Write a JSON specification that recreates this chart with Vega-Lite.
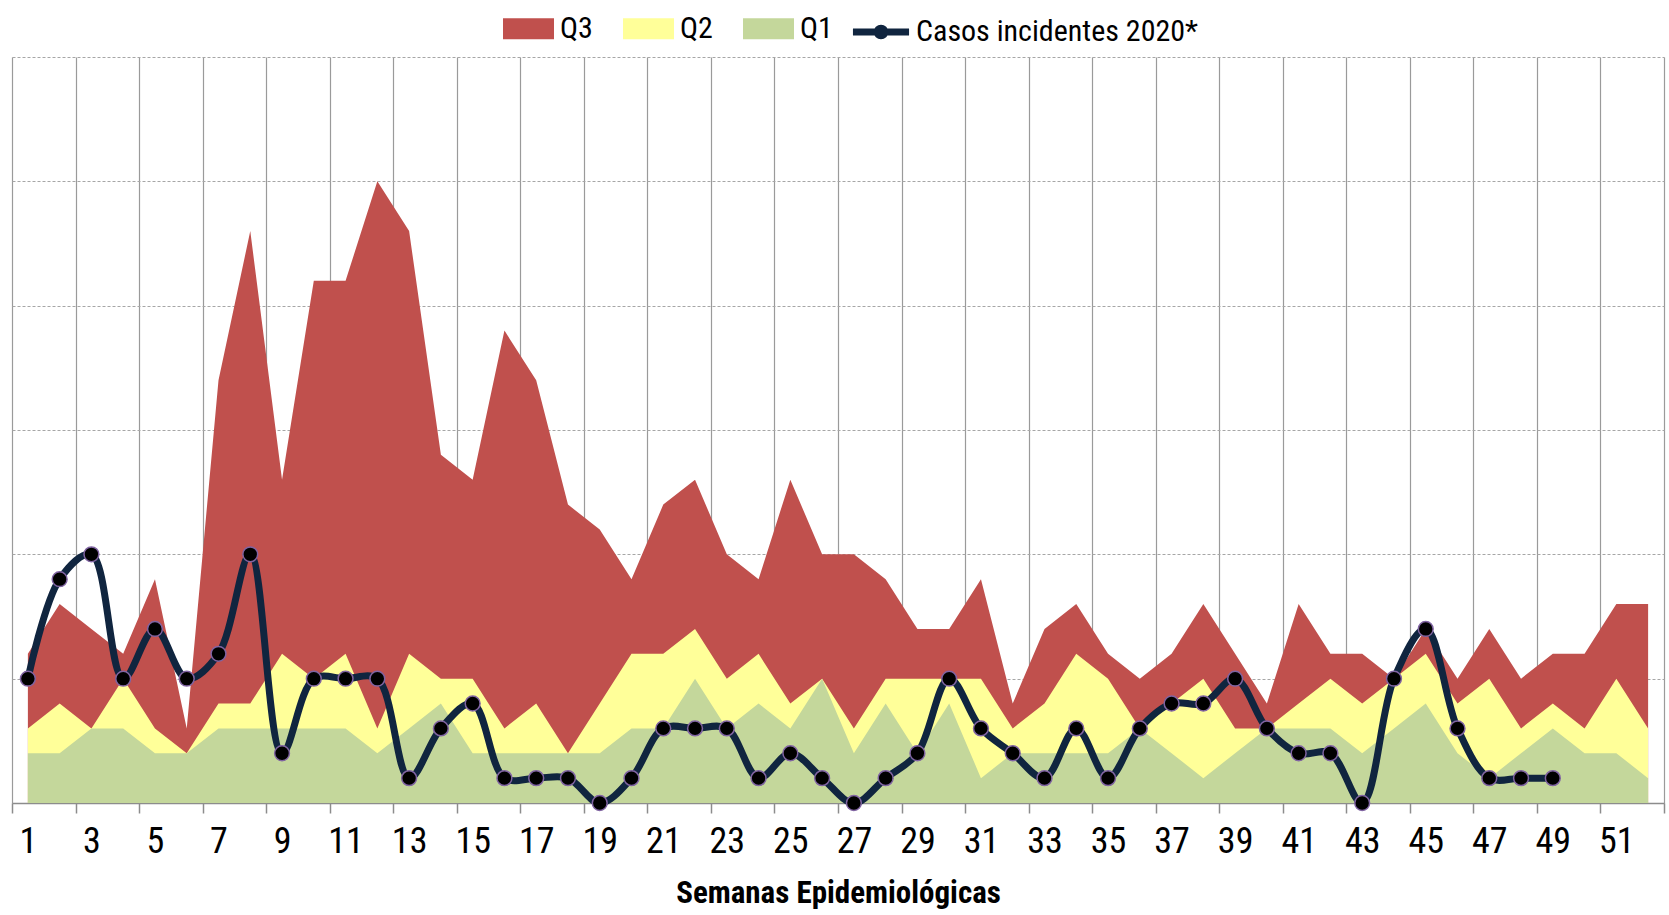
{
  "$schema": "https://vega.github.io/schema/vega-lite/v6.json",
  "width": 1652,
  "height": 746,
  "autosize": {"type": "none"},
  "padding": {"left": 12, "top": 57, "right": 5, "bottom": 112},
  "background": "white",
  "config": {
    "view": {"stroke": null},
    "font": "Roboto Condensed, Liberation Sans Narrow, Roboto, sans-serif",
    "axisY": {"labels": false, "ticks": false, "domain": false, "title": null, "grid": true, "gridDash": [3, 2], "gridColor": "#A6A6A6", "gridWidth": 1, "tickCount": 6}
  },
  "data": {
    "values": [
      {"week": 1, "q1": 2, "q2": 3, "q3": 6, "casos": 5},
      {"week": 2, "q1": 2, "q2": 4, "q3": 8, "casos": 9},
      {"week": 3, "q1": 3, "q2": 3, "q3": 7, "casos": 10},
      {"week": 4, "q1": 3, "q2": 5, "q3": 6, "casos": 5},
      {"week": 5, "q1": 2, "q2": 3, "q3": 9, "casos": 7},
      {"week": 6, "q1": 2, "q2": 2, "q3": 3, "casos": 5},
      {"week": 7, "q1": 3, "q2": 4, "q3": 17, "casos": 6},
      {"week": 8, "q1": 3, "q2": 4, "q3": 23, "casos": 10},
      {"week": 9, "q1": 3, "q2": 6, "q3": 13, "casos": 2},
      {"week": 10, "q1": 3, "q2": 5, "q3": 21, "casos": 5},
      {"week": 11, "q1": 3, "q2": 6, "q3": 21, "casos": 5},
      {"week": 12, "q1": 2, "q2": 3, "q3": 25, "casos": 5},
      {"week": 13, "q1": 3, "q2": 6, "q3": 23, "casos": 1},
      {"week": 14, "q1": 4, "q2": 5, "q3": 14, "casos": 3},
      {"week": 15, "q1": 2, "q2": 5, "q3": 13, "casos": 4},
      {"week": 16, "q1": 2, "q2": 3, "q3": 19, "casos": 1},
      {"week": 17, "q1": 2, "q2": 4, "q3": 17, "casos": 1},
      {"week": 18, "q1": 2, "q2": 2, "q3": 12, "casos": 1},
      {"week": 19, "q1": 2, "q2": 4, "q3": 11, "casos": 0},
      {"week": 20, "q1": 3, "q2": 6, "q3": 9, "casos": 1},
      {"week": 21, "q1": 3, "q2": 6, "q3": 12, "casos": 3},
      {"week": 22, "q1": 5, "q2": 7, "q3": 13, "casos": 3},
      {"week": 23, "q1": 3, "q2": 5, "q3": 10, "casos": 3},
      {"week": 24, "q1": 4, "q2": 6, "q3": 9, "casos": 1},
      {"week": 25, "q1": 3, "q2": 4, "q3": 13, "casos": 2},
      {"week": 26, "q1": 5, "q2": 5, "q3": 10, "casos": 1},
      {"week": 27, "q1": 2, "q2": 3, "q3": 10, "casos": 0},
      {"week": 28, "q1": 4, "q2": 5, "q3": 9, "casos": 1},
      {"week": 29, "q1": 2, "q2": 5, "q3": 7, "casos": 2},
      {"week": 30, "q1": 4, "q2": 5, "q3": 7, "casos": 5},
      {"week": 31, "q1": 1, "q2": 5, "q3": 9, "casos": 3},
      {"week": 32, "q1": 2, "q2": 3, "q3": 4, "casos": 2},
      {"week": 33, "q1": 2, "q2": 4, "q3": 7, "casos": 1},
      {"week": 34, "q1": 2, "q2": 6, "q3": 8, "casos": 3},
      {"week": 35, "q1": 2, "q2": 5, "q3": 6, "casos": 1},
      {"week": 36, "q1": 3, "q2": 3, "q3": 5, "casos": 3},
      {"week": 37, "q1": 2, "q2": 4, "q3": 6, "casos": 4},
      {"week": 38, "q1": 1, "q2": 5, "q3": 8, "casos": 4},
      {"week": 39, "q1": 2, "q2": 3, "q3": 6, "casos": 5},
      {"week": 40, "q1": 3, "q2": 3, "q3": 4, "casos": 3},
      {"week": 41, "q1": 3, "q2": 4, "q3": 8, "casos": 2},
      {"week": 42, "q1": 3, "q2": 5, "q3": 6, "casos": 2},
      {"week": 43, "q1": 2, "q2": 4, "q3": 6, "casos": 0},
      {"week": 44, "q1": 3, "q2": 5, "q3": 5, "casos": 5},
      {"week": 45, "q1": 4, "q2": 6, "q3": 7, "casos": 7},
      {"week": 46, "q1": 2, "q2": 4, "q3": 5, "casos": 3},
      {"week": 47, "q1": 1, "q2": 5, "q3": 7, "casos": 1},
      {"week": 48, "q1": 2, "q2": 3, "q3": 5, "casos": 1},
      {"week": 49, "q1": 3, "q2": 4, "q3": 6, "casos": 1},
      {"week": 50, "q1": 2, "q2": 3, "q3": 6, "casos": null},
      {"week": 51, "q1": 2, "q2": 5, "q3": 8, "casos": null},
      {"week": 52, "q1": 1, "q2": 3, "q3": 8, "casos": null}
    ]
  },
  "encoding": {
    "x": {
      "field": "week",
      "type": "quantitative",
      "scale": {"domain": [0.5, 52.5], "nice": false, "zero": false},
      "axis": {
        "title": "Semanas Epidemiológicas",
        "titleFontSize": 31,
        "titleFontWeight": "bold",
        "titleColor": "#000000",
        "titlePadding": 19,
        "values": [0.5, 2.5, 4.5, 6.5, 8.5, 10.5, 12.5, 14.5, 16.5, 18.5, 20.5, 22.5, 24.5, 26.5, 28.5, 30.5, 32.5, 34.5, 36.5, 38.5, 40.5, 42.5, 44.5, 46.5, 48.5, 50.5, 52.5],
        "labelExpr": "datum.value > 52 ? '' : format(datum.value + 0.5, 'd')",
        "labelOffset": 15.9,
        "labelFontSize": 36,
        "labelColor": "#000000",
        "labelPadding": 11,
        "labelFlush": false,
        "labelOverlap": false,
        "grid": true,
        "gridColor": "#9A9A9A",
        "gridWidth": 1.2,
        "domainColor": "#8C8C8C",
        "domainWidth": 1.5,
        "tickColor": "#8C8C8C",
        "tickWidth": 1.5,
        "tickSize": 10
      }
    }
  },
  "layer": [
    {
      "mark": {"type": "area", "opacity": 1},
      "encoding": {
        "y": {"field": "q3", "type": "quantitative", "stack": null, "title": null, "scale": {"domain": [0, 30], "nice": false}},
        "fill": {
          "datum": "Q3",
          "scale": {"domain": ["Q3", "Q2", "Q1"], "range": ["#C0504D", "#FFFF99", "#C4D79B"]},
          "legend": {
            "title": null,
            "orient": "none",
            "legendX": 491,
            "legendY": -54,
            "direction": "horizontal",
            "columns": 3,
            "columnPadding": 30,
            "labelOffset": 6,
            "labelFontSize": 30,
            "labelLimit": 500,
            "labelColor": "#000000",
            "symbolType": "M-1,-0.41H1V0.41H-1Z",
            "symbolSize": 2601,
            "symbolStrokeWidth": 0,
            "symbolOpacity": 1
          }
        }
      }
    },
    {
      "mark": {"type": "area", "opacity": 1},
      "encoding": {
        "y": {"field": "q2", "type": "quantitative", "stack": null, "title": null},
        "fill": {"datum": "Q2"}
      }
    },
    {
      "mark": {"type": "area", "opacity": 1},
      "encoding": {
        "y": {"field": "q1", "type": "quantitative", "stack": null, "title": null},
        "fill": {"datum": "Q1"}
      }
    },
    {
      "transform": [{"filter": "isValid(datum.casos)"}],
      "mark": {"type": "line", "interpolate": "catmull-rom", "strokeWidth": 7, "strokeCap": "round", "strokeJoin": "round"},
      "encoding": {
        "y": {"field": "casos", "type": "quantitative", "title": null},
        "stroke": {
          "datum": "Casos incidentes 2020*",
          "scale": {"domain": ["Casos incidentes 2020*"], "range": ["#10253F"]},
          "legend": {
            "title": null,
            "orient": "none",
            "legendX": 840,
            "legendY": -54,
            "direction": "horizontal",
            "labelOffset": 6,
            "labelFontSize": 30,
            "labelLimit": 500,
            "labelColor": "#000000",
            "symbolType": "M-1.1,0H1.1M-0.15,0A0.15,0.15 0 1,0 0.15,0A0.15,0.15 0 1,0 -0.15,0",
            "symbolSize": 2601,
            "symbolStrokeWidth": 7,
            "symbolFillColor": "#000000",
            "symbolOpacity": 1
          }
        }
      }
    },
    {
      "transform": [{"filter": "isValid(datum.casos)"}],
      "mark": {"type": "point", "filled": true, "fill": "#000000", "stroke": "#8064A2", "strokeWidth": 1.5, "size": 220, "opacity": 1, "strokeOpacity": 1},
      "encoding": {
        "y": {"field": "casos", "type": "quantitative", "title": null}
      }
    }
  ]
}
